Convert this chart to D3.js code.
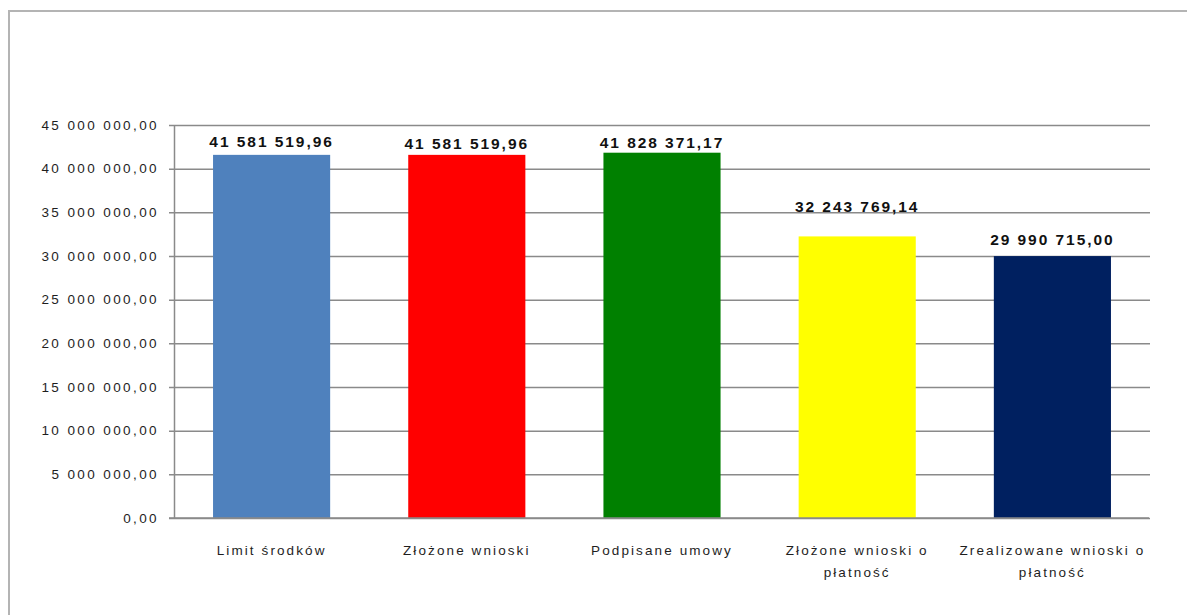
<!DOCTYPE html>
<html>
<head>
<meta charset="utf-8">
<script src="https://cdnjs.cloudflare.com/ajax/libs/d3/7.8.5/d3.min.js"></script>
<style>
  html, body { margin: 0; padding: 0; background: #ffffff; overflow: hidden; }
  svg { display: block; }
</style>
</head>
<body>
<svg id="chart" width="1187" height="615"></svg>
<script>
// ---- data ----
const categories = [
  "Limit środków",
  "Złożone wnioski",
  "Podpisane umowy",
  "Złożone wnioski o płatność",
  "Zrealizowane wnioski o płatność"
];
const values = [41581519.96, 41581519.96, 41828371.17, 32243769.14, 29990715.00];
const barColors = ["#4f81bd", "#ff0000", "#008000", "#ffff00", "#002060"];
const yTicks = [0, 5000000, 10000000, 15000000, 20000000, 25000000, 30000000, 35000000, 40000000, 45000000];
const yMax = 45000000;

// ---- layout / style ----
const plot = { left: 174, right: 1150, top: 125, bottom: 518 };
const labelNudge = [13, 11, 10, 30, 17]; // distance from bar top to label centre (as in the reference)
const FONT = "'Liberation Sans', Arial, sans-serif";

const pl = d3.formatLocale({ decimal: ",", thousands: "\u00a0", grouping: [3], currency: ["", ""] });
const fmt = pl.format(",.2f");

const svg = d3.select("#chart");

// outer frame (left and top edges visible in the crop)
svg.append("path")
  .attr("d", "M9,615V11H1187")
  .attr("fill", "none")
  .attr("stroke", "#b4b4b4").attr("stroke-width", 2);

const x = d3.scaleBand()
  .domain(categories)
  .range([plot.left, plot.right])
  .paddingInner(0.4)
  .paddingOuter(0.2);

const y = d3.scaleLinear()
  .domain([0, yMax])
  .range([plot.bottom, plot.top]);

// gridlines + y axis
const yAxis = d3.axisLeft(y)
  .tickValues(yTicks)
  .tickSize(-(plot.right - plot.left))
  .tickSizeOuter(0)
  .tickPadding(15)
  .tickFormat(fmt);

const gy = svg.append("g")
  .attr("transform", `translate(${plot.left},0)`)
  .call(yAxis);
gy.select(".domain").attr("stroke", "#8a8a8a").attr("stroke-width", 1.5);
gy.selectAll(".tick line")
  .attr("stroke", "#8a8a8a").attr("stroke-width", 1.5)
  .attr("x1", -5);
gy.selectAll(".tick text")
  .attr("fill", "#1e1e1e")
  .style("font-family", FONT)
  .style("font-size", "13.5px")
  .style("letter-spacing", "2.4px");

// bars
svg.append("g").selectAll("rect")
  .data(values)
  .join("rect")
  .attr("x", (d, i) => x(categories[i]))
  .attr("y", d => y(d))
  .attr("width", x.bandwidth())
  .attr("height", d => y(0) - y(d))
  .attr("fill", (d, i) => barColors[i]);

// bottom axis line
const xAxis = d3.axisBottom(x).tickSize(0).tickFormat("");
const gx = svg.append("g")
  .attr("transform", `translate(0,${plot.bottom})`)
  .call(xAxis);
gx.select(".domain")
  .attr("stroke", "#8a8a8a").attr("stroke-width", 1.5)
  .attr("d", `M${plot.left - 5},0H${plot.right - 1}`);

// value labels
svg.append("g").selectAll("text")
  .data(values)
  .join("text")
  .attr("x", (d, i) => x(categories[i]) + x.bandwidth() / 2)
  .attr("y", (d, i) => y(d) - labelNudge[i])
  .attr("dy", "0.35em")
  .attr("text-anchor", "middle")
  .attr("fill", "#111111")
  .style("font-family", FONT)
  .style("font-weight", "bold")
  .style("font-size", "15.5px")
  .style("letter-spacing", "1.95px")
  .text(d => fmt(d));

// category labels with wrapping
const catFontSize = 13.5, catLS = 2.1;
const ctx = document.createElement("canvas").getContext("2d");
ctx.font = `${catFontSize}px 'Liberation Sans', Arial, sans-serif`;
const measure = s => ctx.measureText(s).width + catLS * s.length;

function wrap(label, maxW) {
  const words = label.split(" ");
  const lines = [];
  let cur = "";
  words.forEach(w => {
    const t = cur ? cur + " " + w : w;
    if (measure(t) > maxW && cur) { lines.push(cur); cur = w; }
    else cur = t;
  });
  if (cur) lines.push(cur);
  return lines;
}

const catG = svg.append("g");
categories.forEach((c, i) => {
  const lines = wrap(c, x.step() + 2);
  const t = catG.append("text")
    .attr("text-anchor", "middle")
    .attr("fill", "#1e1e1e")
    .style("font-family", FONT)
    .style("font-size", catFontSize + "px")
    .style("letter-spacing", catLS + "px");
  lines.forEach((ln, k) => {
    t.append("tspan")
      .attr("x", x(c) + x.bandwidth() / 2)
      .attr("y", 555 + k * 22)
      .text(ln);
  });
});
</script>
</body>
</html>
